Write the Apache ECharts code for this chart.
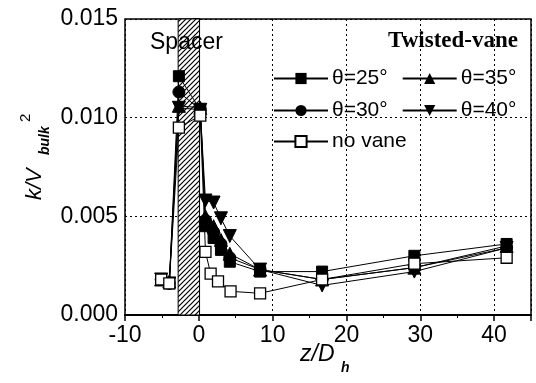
<!DOCTYPE html>
<html><head><meta charset="utf-8">
<script src="https://cdn.jsdelivr.net/npm/echarts@6/dist/echarts.min.js"></script>
<style>html,body{margin:0;padding:0;background:#fff}#c{width:536px;height:383px}</style>
</head><body><div id="c"></div>
<script>
// ---- data ----
const xVane = [-5.1, -4.0, -2.7, 0.2, 0.9, 2.0, 3.0, 4.2, 8.3, 16.7, 29.2, 41.7];
const theta25 = [0.0018, 0.0016, 0.0121, 0.0104, 0.0045, 0.0039, 0.0033, 0.0027, 0.0022, 0.0022, 0.0030, 0.0036];
const theta35 = [0.0018, 0.0017, 0.0106, 0.0105, 0.0050, 0.0045, 0.0038, 0.0031, 0.0023, 0.0018, 0.0024, 0.0035];
const theta30 = [0.0018, 0.0016, 0.0113, 0.0104, 0.0048, 0.0042, 0.0036, 0.0029, 0.0023, 0.0018, 0.0024, 0.0034];
const theta40 = [0.0018, 0.0016, 0.0105, 0.0104, 0.0058, 0.0057, 0.0049, 0.0040, 0.0023, 0.0015, 0.0022, 0.0034];
const xNoVane = [-5.1, -4.0, -2.7, 0.2, 0.9, 1.6, 2.6, 4.3, 8.3, 16.7, 29.2, 41.7];
const noVane = [0.0018, 0.0016, 0.0095, 0.0101, 0.0032, 0.0021, 0.0017, 0.0012, 0.0011, 0.0018, 0.0026, 0.0029];
const spacer = [-2.8, 0.1];
const seriesNames = ['θ=25°', 'θ=35°', 'θ=30°', 'θ=40°', 'no vane'];

const pair = (xs, ys) => xs.map((x, i) => [x, ys[i]]);

// hatch pattern
const pc = document.createElement('canvas');
pc.width = 5; pc.height = 5;
const g = pc.getContext('2d');
g.fillStyle = '#fff'; g.fillRect(0, 0, 5, 5);
g.strokeStyle = '#000'; g.lineWidth = 1.2;
g.beginPath(); g.moveTo(-1, 6); g.lineTo(6, -1); g.stroke();
g.beginPath(); g.moveTo(-1, 1); g.lineTo(1, -1); g.stroke();
g.beginPath(); g.moveTo(4, 6); g.lineTo(6, 4); g.stroke();

const chart = echarts.init(document.getElementById('c'), null, {renderer: 'canvas'});
const FONT = 'Liberation Sans';
const tri = 'path://M0,10 L5,0 L10,10 Z';
const triDown = 'path://M0,0 L10,0 L5,10 Z';

function mk(name, data, symbol, size, filled) {
  return {
    name, type: 'line', data, symbol, symbolSize: size,
    lineStyle: {color: '#000', width: 1},
    itemStyle: filled ? {color: '#000', borderColor: '#000'} : {color: '#fff', borderColor: '#000', borderWidth: 1.3},
    emphasis: {disabled: true}, animation: false, z: filled ? 3 : 4
  };
}
const legendCommon = {
  itemWidth: 54, itemHeight: 14, itemGap: 14,
  textStyle: {fontFamily: FONT, fontSize: 21, color: '#000', padding: [0, 0, 0, -1]},
  selectedMode: false, padding: 0
};

chart.setOption({
  animation: false,
  grid: {left: 125, right: 5, top: 19, bottom: 68, show: true, borderColor: '#000', borderWidth: 1.5, backgroundColor: 'transparent'},
  xAxis: {
    type: 'value', min: -10, max: 45, interval: 10,
    axisLine: {lineStyle: {color: '#000', width: 2}},
    axisTick: {lineStyle: {color: '#000', width: 1.5}, length: 6},
    minorTick: {show: true, splitNumber: 2, length: 3, lineStyle: {color: '#000'}},
    axisLabel: {fontFamily: FONT, fontSize: 23, color: '#000', margin: 9, formatter: v => (v === 45 ? '' : String(v))},
    splitLine: {show: true, lineStyle: {color: '#000', type: [2, 3], width: 1}}
  },
  yAxis: {
    type: 'value', min: 0, max: 0.015, interval: 0.005,
    axisLine: {lineStyle: {color: '#000', width: 2}},
    axisTick: {lineStyle: {color: '#000', width: 1.5}, length: 6},
    minorTick: {show: true, splitNumber: 2, length: 3, lineStyle: {color: '#000'}},
    axisLabel: {fontFamily: FONT, fontSize: 23, color: '#000', margin: 7, formatter: v => v.toFixed(3)},
    splitLine: {show: true, lineStyle: {color: '#000', type: [2, 3], width: 1}}
  },
  legend: [
    Object.assign({left: 273, top: 68, data: [seriesNames[0], seriesNames[1]]}, legendCommon),
    Object.assign({left: 273, top: 100, data: [seriesNames[2], seriesNames[3]]}, legendCommon),
    Object.assign({left: 273, top: 131, data: [seriesNames[4]]}, legendCommon)
  ],
  series: [
    Object.assign(mk(seriesNames[0], pair(xVane, theta25), 'rect', 11, true), {
      markArea: {
        silent: true,
        itemStyle: {color: {image: pc, repeat: 'repeat'}, borderColor: '#000', borderWidth: 1},
        data: [[{xAxis: spacer[0], yAxis: 0}, {xAxis: spacer[1], yAxis: 0.015}]]
      }
    }),
    mk(seriesNames[1], pair(xVane, theta35), tri, 13, true),
    mk(seriesNames[2], pair(xVane, theta30), 'circle', 12, true),
    mk(seriesNames[3], pair(xVane, theta40), triDown, 13, true),
    mk(seriesNames[4], pair(xNoVane, noVane), 'rect', 11, false)
  ],
  graphic: [
    {type: 'text', left: 150, top: 31, z: 10, style: {text: 'Spacer', fontFamily: FONT, fontSize: 23, fill: '#000'}},
    {type: 'text', right: 18, top: 30, z: 10, style: {text: 'Twisted-vane', fontFamily: 'Liberation Serif', fontWeight: 'bold', fontSize: 23, fill: '#000'}},
    {type: 'group', x: 46, y: 200, rotation: Math.PI / 2, children: [
      {type: 'text', x: 0, y: 0, style: {text: 'k/V', fontFamily: FONT, fontStyle: 'italic', fontSize: 22, fill: '#000', textVerticalAlign: 'bottom'}},
      {type: 'text', x: 45, y: 6, style: {text: 'bulk', fontFamily: FONT, fontStyle: 'italic', fontWeight: 'bold', fontSize: 14, fill: '#000', textVerticalAlign: 'bottom'}},
      {type: 'text', x: 78, y: -13, style: {text: '2', fontFamily: FONT, fontSize: 15, fill: '#000', textVerticalAlign: 'bottom'}}
    ]},
    {type: 'text', left: 300, top: 343, style: {text: 'z/D', fontFamily: FONT, fontStyle: 'italic', fontSize: 23, fill: '#000'}},
    {type: 'text', left: 341, top: 361, style: {text: 'h', fontFamily: FONT, fontStyle: 'italic', fontWeight: 'bold', fontSize: 14, fill: '#000'}}
  ]
});
</script></body></html>
